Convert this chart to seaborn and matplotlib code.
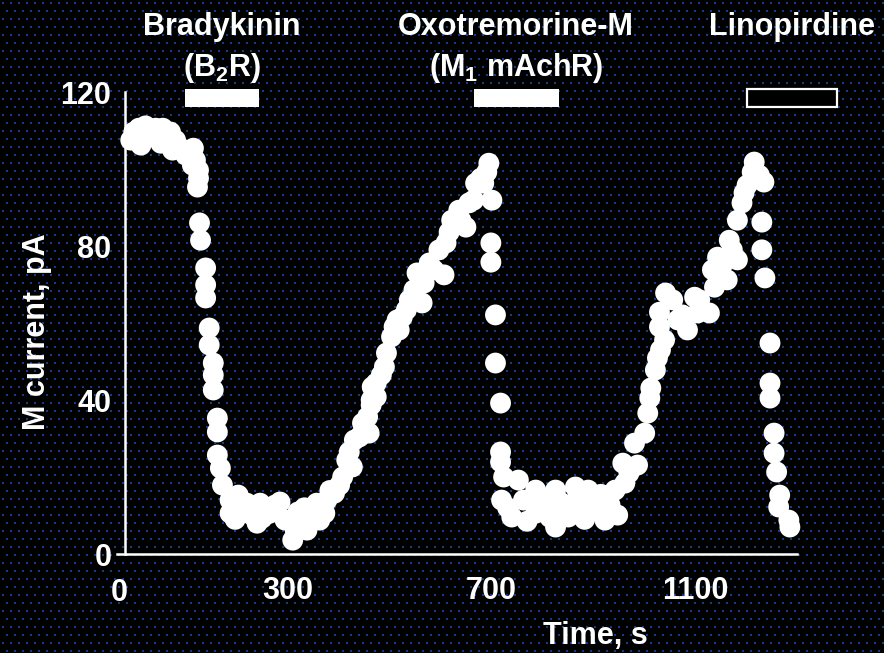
import numpy as np
import matplotlib
matplotlib.use("Agg")
import matplotlib.pyplot as plt
from matplotlib.patches import Rectangle
import seaborn as sns

# M-current amplitude over time (s, pA)
time_s = [
    -8, -2, 8, 12, 21, 31, 41, 51, 55, 60, 70, 74, 80, 90, 100, 109, 113, 115, 119, 125, 125,
    123, 127, 129, 139, 139, 139, 146, 146, 154, 154, 154, 162, 162, 162, 168, 172,
    187, 187, 197, 203, 207, 220, 230, 240, 246, 250, 258, 265, 275, 285, 295, 304, 310,
    315, 320, 328, 333, 338, 347, 352, 357, 363, 373, 377, 383, 392, 402, 408, 416, 427,
    421, 431, 441, 447, 447, 457, 460, 464, 464, 466, 474, 474, 484, 490, 494, 504, 509,
    515, 519, 525, 533, 539, 548, 554, 564, 568, 578, 587, 597, 607, 611, 617, 622, 636,
    640, 650, 656, 665, 669, 679, 685, 691, 695, 701,
    699, 699, 708, 708, 718, 718, 718,
    720, 724, 732, 740, 753, 763, 770, 787, 787, 795, 806, 815, 826, 826, 835, 842, 851,
    858, 865, 876, 883, 890, 900, 909, 915, 923, 933, 943, 948, 958, 962, 970, 981, 987,
    1001, 1007, 1011, 1013, 1022, 1026, 1030, 1030, 1032, 1040, 1042, 1056, 1066, 1075,
    1085, 1099, 1105, 1109, 1128, 1134, 1138, 1144, 1153, 1163, 1167, 1173, 1183, 1183,
    1192, 1196, 1202, 1212, 1216, 1226, 1235,
    1231, 1231, 1237, 1247, 1247, 1247, 1255, 1255, 1260, 1264, 1266, 1284, 1286,
]
current_pa = [
    107.5, 109.6, 110.6, 106.2, 111.2, 109.6, 110.6, 106.7, 110.6, 108.8, 109.6, 104.9,
    107.5, 105.4, 103.6, 104.4, 101.0, 105.4, 102.3, 99.7, 97.6,
    95.3, 86.0, 81.5, 74.3, 69.9, 66.5, 58.7, 54.3, 49.6, 46.5, 42.6, 35.3, 31.7, 25.7,
    22.3, 17.9,
    14.0, 10.6, 9.0, 15.3, 11.4, 13.2, 10.1, 8.0, 13.2, 9.3, 12.0, 10.6, 12.7, 13.5, 8.8,
    8.8, 3.6, 6.0, 10.9, 7.5, 12.0, 6.2, 9.3, 11.0, 13.2, 8.8, 10.6, 14.0, 16.5, 15.8,
    17.9, 20.0, 24.4, 22.6,
    26.5, 29.6, 30.4, 34.0, 31.4, 35.6, 31.4, 40.0, 38.7, 43.4, 40.8, 44.4, 46.5, 48.6,
    52.2, 56.4, 59.0, 60.8, 58.2, 61.5, 63.4, 66.0, 68.6, 73.0, 65.2, 70.4, 75.6, 73.8,
    79.0, 72.5, 80.8, 83.6, 86.7, 89.3, 86.7, 84.9, 91.2, 91.9, 96.3, 97.6, 96.3, 99.2,
    101.5, 91.9,
    80.8, 75.8, 62.1, 49.6, 39.2, 26.5, 23.9,
    14.0, 20.0, 12.0, 9.6, 19.2, 14.0, 8.5, 16.6, 10.6, 13.0, 14.0, 9.5, 16.6, 7.0, 13.5,
    11.4, 9.6, 13.0, 17.4, 12.7, 9.0, 16.6, 11.4, 13.2, 15.5, 8.8, 12.7, 16.6, 10.1,
    23.6, 18.4, 21.0, 28.8, 23.1,
    31.4, 36.6, 40.5, 43.1, 47.8, 50.9, 59.0, 62.8, 53.0, 55.6, 67.8, 66.0, 60.8, 62.1,
    58.2, 66.7, 62.6, 66.0, 62.6, 73.8, 69.3, 77.1, 75.0, 71.2, 81.5, 79.0, 76.4, 86.7,
    91.2, 93.8, 95.8, 99.2, 101.8, 98.4, 96.6,
    86.2, 79.0, 71.7, 54.8, 44.4, 40.5, 31.4, 26.2, 21.3, 12.2, 15.3, 8.8, 7.0,
]

# Drug applications (name, receptor, application window in s)
drug_names = ["Bradykinin", "Oxotremorine-M", "Linopirdine"]
drug_targets = ["(B$_2$R)", "(M$_1$ mAchR)", ""]
drug_start = [98, 665, 1201]
drug_end = [243, 832, 1378]
drug_filled = [True, True, False]

x_ticks = [100, 300, 500, 700, 900, 1100, 1300]
x_tick_labels = ["", "300", "", "700", "", "1100", ""]
y_ticks = [0, 20, 40, 60, 80, 100, 120]
y_tick_labels = ["0", "", "40", "", "80", "", "120"]

sns.set_style("dark")
plt.rcParams.update({
    "figure.facecolor": "black",
    "axes.facecolor": "none",
    "text.color": "white",
    "axes.labelcolor": "white",
    "xtick.color": "white",
    "ytick.color": "white",
    "font.weight": "bold",
    "mathtext.fontset": "custom",
    "mathtext.rm": "Liberation Sans:bold",
    "mathtext.it": "Liberation Sans:bold",
    "mathtext.bf": "Liberation Sans:bold",
    "mathtext.default": "rm",
})
plt.rcParams["font.family"] = ["Liberation Sans", "DejaVu Sans"]

W, H = 884, 653
fig = plt.figure(figsize=(W / 100, H / 100), dpi=100)
fig.patch.set_facecolor("black")

# dotted backdrop
bg = fig.add_axes([0, 0, 1, 1], zorder=0)
bg.set_xlim(0, W)
bg.set_ylim(H, 0)
bg.axis("off")
rows = np.arange(3, H, 8)
pts_x, pts_y = [], []
for i, r in enumerate(rows):
    cols = np.arange(3 + (4 if i % 2 else 0), W, 8)
    pts_x.extend(cols)
    pts_y.extend([r] * len(cols))
bg.scatter(pts_x, pts_y, s=2.0, marker="s", color="#0f3f85", linewidths=0)

ax = fig.add_axes([117 / W, 99 / H, 680 / W, 462 / H], zorder=1)
ax.set_facecolor("none")
sns.scatterplot(x=time_s, y=current_pa, ax=ax, s=225, color="white",
                edgecolor="none", linewidth=0, clip_on=False, legend=False, zorder=3)

ax.set_xlim(-35, 1300)
ax.set_ylim(0, 120)
ax.grid(False)
for side in ["top", "right"]:
    ax.spines[side].set_visible(False)
for side in ["left", "bottom"]:
    ax.spines[side].set_color("white")
    ax.spines[side].set_linewidth(1.8)
ax.spines["left"].set_position(("data", -20))
ax.spines["left"].set_bounds(0, 120)

ax.set_xticks(x_ticks)
ax.set_xticklabels(x_tick_labels)
ax.set_yticks(y_ticks)
ax.set_yticklabels(y_tick_labels)
ax.tick_params(axis="x", direction="out", length=3, width=1.5, pad=13,
               labelsize=22, colors="white")
ax.tick_params(axis="y", direction="out", length=2.5, width=1.5, pad=7,
               labelsize=22, colors="white")
for lbl in ax.get_xticklabels() + ax.get_yticklabels():
    lbl.set_fontweight("bold")

# origin label on the time axis
ax.annotate("0", xy=(-31, 0), xycoords=("data", "axes fraction"),
            xytext=(0, -39), textcoords="offset pixels",
            ha="center", va="center", fontsize=22, fontweight="bold", color="white",
            annotation_clip=False)

fig.text(595 / W, 1 - 644 / H, "Time, s", ha="center", va="baseline",
         fontsize=22, fontweight="bold", color="white")
fig.text(37 / W, 1 - 332 / H, "M current, pA", ha="center", va="center",
         rotation=90, fontsize=22, fontweight="bold", color="white")

# drug application bars with labels
for name, target, t0, t1, filled in zip(drug_names, drug_targets, drug_start,
                                         drug_end, drug_filled):
    ax.add_patch(Rectangle((t0, 116.2), t1 - t0, 4.6,
                           facecolor="white" if filled else "black",
                           edgecolor="white", linewidth=0 if filled else 1.6,
                           clip_on=False, zorder=4))
    xc = (t0 + t1) / 2
    ax.annotate(name, xy=(xc, 1 - 35 / H), xycoords=("data", "figure fraction"),
                ha="center", va="baseline", fontsize=22, fontweight="bold",
                color="white", annotation_clip=False)
    if target:
        ax.annotate(target, xy=(xc, 1 - 76 / H), xycoords=("data", "figure fraction"),
                    ha="center", va="baseline", fontsize=22, fontweight="bold",
                    color="white", annotation_clip=False)

fig.savefig("out.png", dpi=100, facecolor="black")
